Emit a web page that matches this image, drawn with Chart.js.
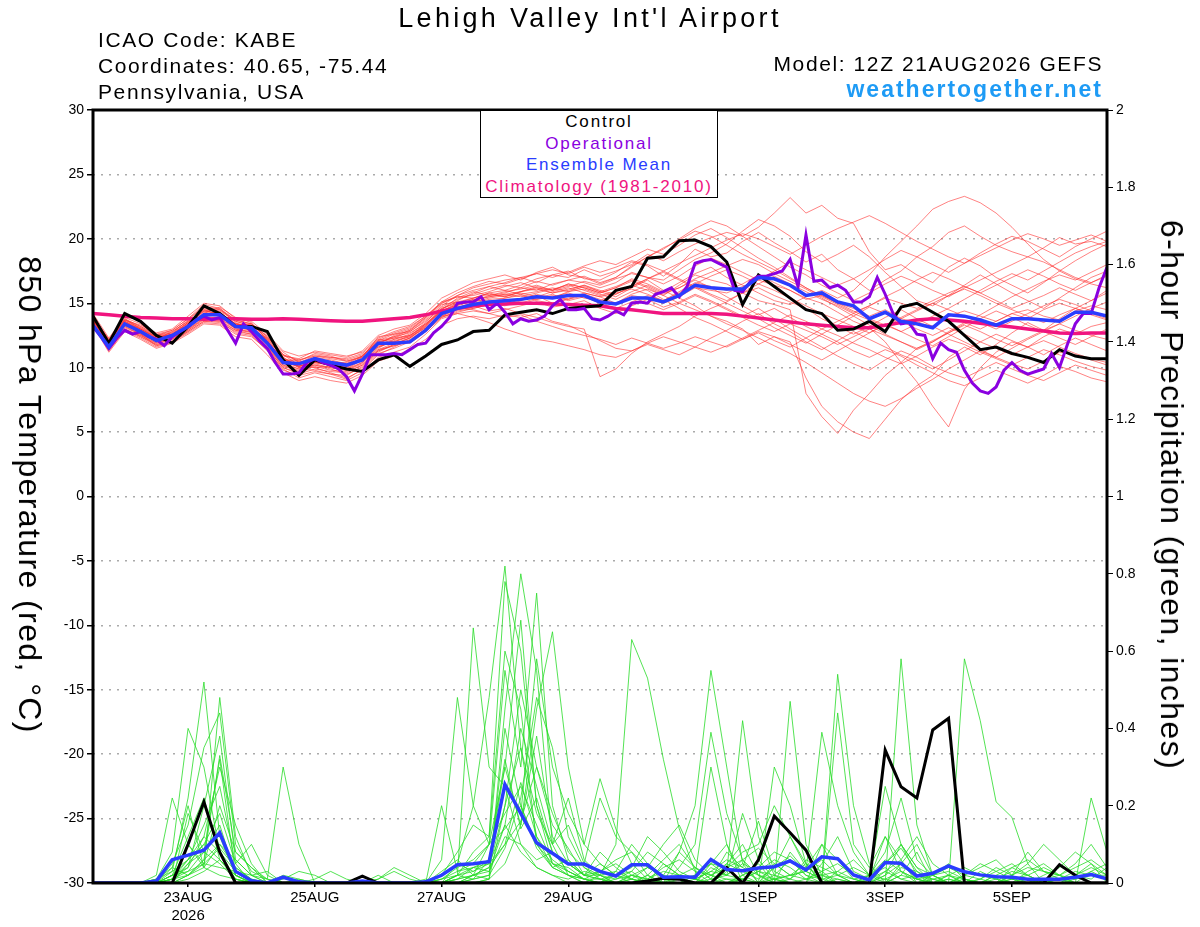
<!DOCTYPE html>
<html>
<head>
<meta charset="utf-8">
<script src="https://cdn.jsdelivr.net/npm/chart.js@4.4.1/dist/chart.umd.min.js"></script>
<style>
  body { margin: 0; background: #fff; font-family: "Liberation Sans", Arial, sans-serif; }
  #wrap { position: relative; width: 1200px; height: 927px; }
  canvas { position: absolute; left: 0; top: 0; }
  .t { position: absolute; white-space: nowrap; color: #000; }
  .hd { font-size: 21px; line-height: 24px; letter-spacing: 1.6px; }
  .ax { position: absolute; white-space: nowrap; font-size: 32px; line-height: 36px; letter-spacing: 1.4px;
        transform: translate(-50%, -50%) rotate(90deg); }
  #legend { position: absolute; left: 480px; top: 110px; width: 236px; height: 86px;
            border: 1.5px solid #000; background: #fff; text-align: center;
            font-size: 17px; line-height: 21.5px; letter-spacing: 1.8px; }
</style>
</head>
<body>
<div id="wrap">
  <canvas id="myChart" width="1200" height="927"></canvas>
  <div class="t" style="left:0;width:1180px;text-align:center;top:1px;font-size:27px;line-height:34px;letter-spacing:3.3px">Lehigh Valley Int'l Airport</div>
  <div class="t hd" style="left:98px;top:28px">ICAO Code: KABE</div>
  <div class="t hd" style="left:98px;top:54px">Coordinates: 40.65, -75.44</div>
  <div class="t hd" style="left:98px;top:80px">Pennsylvania, USA</div>
  <div class="t hd" style="right:97px;top:52px">Model: 12Z 21AUG2026 GEFS</div>
  <div class="t" style="right:97px;top:76px;font-size:23px;line-height:27px;letter-spacing:2px;font-weight:bold;color:#1e9bf5">weathertogether.net</div>
  <div class="ax" style="left:30px;top:495px">850 hPa Temperature (red, °C)</div>
  <div class="ax" style="left:1172px;top:495px">6-hour Precipitation (green, inches)</div>
  <div id="legend">
    <div style="color:#000">Control</div>
    <div style="color:#8a00e0">Operational</div>
    <div style="color:#2a3cff">Ensemble Mean</div>
    <div style="color:#f0147f">Climatology (1981-2010)</div>
  </div>
</div>
<script>
// forecast hours from 12Z 21AUG2026
const hours6 = Array.from({length: 65}, (_, i) => i * 6);
const hours3 = Array.from({length: 129}, (_, j) => j * 3);

const tickHours = [36, 84, 132, 180, 252, 300, 348];
const tickLabels = [['23AUG', '2026'], '25AUG', '27AUG', '29AUG', '1SEP', '3SEP', '5SEP'];

// 850 hPa temperature (C)
const controlTemp = [
  14.0,11.9,14.2,13.6,12.5,11.9,13.2,14.8,14.2,13.2,13.2,12.8,10.6,9.4,10.6,10.2,
  9.9,9.7,10.6,11.0,10.1,10.9,11.8,12.15,12.8,12.9,14.1,14.3,14.5,14.2,14.6,14.7,
  14.8,16.0,16.3,18.5,18.6,19.85,19.9,19.4,18.2,14.9,17.2,16.3,15.4,14.5,14.2,12.9,
  13.0,13.6,12.8,14.7,15.0,14.3,13.6,12.5,11.4,11.6,11.1,10.8,10.4,11.4,10.9,10.7,10.7
];
const operTemp = [
  13.2,12.4,11.5,12.3,12.9,12.6,12.8,12.4,12.2,11.7,12.4,12.8,13.2,13.7,14.0,13.7,
  13.9,12.9,11.9,13.4,12.8,12.1,11.5,10.4,9.5,9.5,9.6,10.4,10.7,10.4,10.2,9.9,
  9.3,8.2,9.5,11.0,11.0,11.0,11.1,11.0,11.4,11.8,11.9,12.7,13.2,13.9,15.0,15.1,
  15.1,15.5,14.5,15.0,14.3,13.4,13.8,13.6,13.7,14.0,14.8,15.3,14.5,14.5,14.6,13.8,
  13.7,14.0,14.4,14.1,15.0,15.1,15.0,15.7,15.9,16.2,15.5,16.3,18.1,18.3,18.4,18.1,
  17.8,16.0,15.9,16.7,17.1,17.1,17.3,17.5,18.4,16.3,20.3,16.7,16.8,16.2,16.4,16.0,
  15.1,15.1,15.5,17.0,15.7,14.2,13.4,13.5,12.6,12.5,10.7,11.9,11.4,11.2,9.8,8.8,
  8.2,8.0,8.5,9.8,10.4,9.8,9.5,9.7,9.9,11.1,10.0,11.8,13.4,14.2,14.2,16.2,17.8
];
const meanTemp = [
  13.3,11.6,13.4,12.8,12.1,12.5,13.2,14.1,14.1,13.2,13.1,11.9,10.4,10.3,10.7,10.4,
  10.2,10.6,11.9,11.9,12.0,12.9,14.2,14.6,14.9,15.1,15.2,15.3,15.5,15.4,15.6,15.6,
  15.1,14.95,15.4,15.4,15.1,15.6,16.4,16.2,16.1,16.1,17.0,16.9,16.4,15.6,15.8,15.1,
  14.8,13.8,14.3,13.6,13.4,13.1,14.1,14.0,13.7,13.3,13.8,13.8,13.7,13.6,14.3,14.3,14.0
];
const climoTemp = [
  14.2,14.1,14.0,13.9,13.85,13.8,13.8,13.75,13.8,13.8,13.75,13.75,13.8,13.75,13.7,13.65,
  13.6,13.6,13.7,13.8,13.9,14.1,14.4,14.6,14.8,14.9,14.95,15.0,15.0,14.95,14.9,14.85,
  14.8,14.6,14.5,14.35,14.2,14.2,14.2,14.2,14.15,14.0,13.85,13.7,13.55,13.4,13.3,13.2,
  13.1,13.1,13.3,13.5,13.7,13.8,13.7,13.6,13.45,13.3,13.15,13.0,12.85,12.7,12.65,12.7,12.7
];
const memberTemp = [
  [14.0,12.0,13.8,13.2,12.6,12.9,13.8,14.9,14.6,13.5,13.0,12.2,10.8,10.1,10.3,10.0,
   9.8,10.4,11.5,12.2,12.6,13.5,14.8,15.6,16.2,16.5,16.8,17.0,16.6,17.2,17.5,16.9,
   16.8,17.4,18.2,17.9,17.1,18.0,19.2,18.6,18.9,19.8,20.5,19.7,19.0,18.2,18.8,17.6,
   16.9,16.0,16.8,17.5,18.6,19.4,20.5,21.0,20.2,19.5,19.0,18.6,19.3,20.1,19.6,19.8,19.4],
  [13.6,11.4,13.0,12.4,11.8,12.0,12.9,13.8,13.9,13.4,13.3,12.5,11.0,10.2,10.0,9.6,
   9.2,9.8,11.0,11.6,12.2,13.0,14.0,14.5,14.7,15.0,14.8,15.2,15.6,15.0,15.3,15.8,
   15.5,15.0,15.7,16.1,15.6,16.4,17.2,16.8,16.5,15.8,15.2,14.9,14.5,8.0,6.2,4.9,
   6.7,8.0,9.4,10.4,11.5,12.0,12.8,13.5,13.0,13.6,14.2,13.8,14.5,15.0,14.6,14.1,13.7],
  [14.1,11.8,13.5,13.0,12.3,12.6,13.4,14.3,14.0,13.0,12.7,11.5,10.0,9.6,10.4,10.2,
   10.1,10.8,12.4,12.6,12.8,13.6,14.6,15.0,15.4,15.7,15.5,15.9,16.2,15.8,16.0,16.4,
   15.9,15.5,16.2,16.8,16.0,15.4,14.8,14.0,13.6,13.0,11.8,12.4,12.0,9.2,7.0,5.8,
   5.0,4.5,6.0,7.5,8.6,9.4,10.8,11.6,11.0,11.8,12.7,13.5,12.9,13.8,14.6,15.2,16.0],
  [13.9,12.1,13.6,12.9,12.2,12.8,13.6,14.5,14.4,13.6,13.2,12.0,10.6,10.6,11.0,10.8,
   10.6,11.0,12.0,12.3,12.5,13.2,14.4,15.0,15.2,15.6,15.9,16.1,16.4,16.0,16.5,16.2,
   15.8,16.2,16.9,16.5,15.9,16.6,17.3,17.8,17.0,16.4,15.8,15.2,14.9,15.5,16.0,15.4,
   16.0,17.2,18.6,19.8,21.0,22.3,22.9,23.3,22.8,22.0,20.9,19.6,18.4,17.5,16.9,16.5,16.2],
  [13.8,11.7,13.3,12.7,12.0,12.3,13.1,14.0,14.2,13.3,13.4,12.2,10.8,10.0,10.2,9.9,
   9.5,10.0,11.2,11.8,12.3,13.3,14.5,15.2,15.8,16.3,16.0,16.4,16.9,17.2,17.0,17.6,
   17.1,17.5,18.0,18.8,18.3,19.0,19.6,20.1,20.5,20.2,20.9,22.0,23.2,22.0,22.6,21.6,
   21.2,19.0,17.6,18.0,17.2,16.6,17.8,18.5,17.9,17.0,16.4,15.8,16.6,17.5,18.3,19.0,19.6],
  [13.5,11.3,12.9,12.5,11.9,12.2,13.0,13.9,13.7,12.9,12.6,11.6,10.1,9.8,10.6,10.3,
   10.4,10.9,12.2,12.0,11.9,12.8,13.9,14.3,14.6,14.9,15.3,15.0,15.4,15.7,15.2,15.5,
   15.0,14.6,15.1,15.6,15.2,15.9,16.6,16.3,16.0,16.5,17.2,16.6,16.0,15.4,15.0,14.3,
   13.6,13.1,12.0,10.4,8.9,7.0,5.4,8.3,10.0,11.2,12.0,11.6,12.4,13.0,12.6,13.2,13.5],
  [14.2,12.3,13.9,13.4,12.5,12.7,13.5,14.6,14.3,13.1,12.9,12.3,11.2,10.4,10.0,10.1,
   9.9,10.6,11.8,12.5,12.9,13.8,14.9,15.1,14.8,14.4,14.6,14.2,13.9,13.5,13.2,13.0,
   9.3,9.9,11.1,12.0,12.6,13.2,14.0,14.6,15.1,15.8,16.2,15.6,15.1,14.6,13.8,13.2,
   12.6,13.2,13.9,14.5,13.8,13.2,12.6,12.0,11.4,10.8,10.3,9.9,10.5,11.2,11.0,10.6,10.2],
  [13.7,11.9,13.7,13.1,12.4,12.5,13.3,14.2,14.7,13.9,13.5,12.1,10.5,10.3,10.8,10.6,
   10.3,10.7,11.9,12.4,12.7,13.4,14.5,15.4,15.9,15.6,15.8,16.2,16.0,16.5,16.8,16.6,
   16.2,16.6,17.4,17.0,16.8,17.6,18.4,18.9,19.6,20.6,21.5,21.0,20.2,19.0,18.2,18.8,
   19.5,18.6,17.4,16.3,15.2,14.8,15.6,16.4,17.2,16.5,15.8,15.2,14.6,15.4,16.2,17.0,17.5],
  [13.4,11.6,13.1,12.6,11.7,12.1,12.8,13.6,13.6,12.7,12.5,11.3,9.9,9.2,9.6,9.3,
   9.0,9.6,10.8,11.2,11.6,12.6,13.8,14.2,14.4,14.2,14.5,14.8,15.1,14.7,14.9,15.2,
   14.6,14.2,14.8,15.3,14.7,15.1,15.7,15.2,14.6,14.0,14.6,13.8,13.0,12.3,11.6,10.9,
   10.3,9.8,10.6,11.3,10.8,10.1,9.6,9.2,9.8,10.4,9.9,9.4,9.0,9.6,10.2,9.8,9.4],
  [13.9,11.5,13.4,12.8,12.0,12.4,13.2,14.1,14.0,13.2,13.0,11.8,10.3,10.2,10.8,10.4,
   10.2,10.5,11.7,11.9,12.1,13.0,14.3,14.7,15.0,15.3,15.4,15.6,15.3,15.5,15.8,15.4,
   15.2,15.0,15.6,15.4,15.0,15.5,16.2,16.0,15.8,16.3,16.8,16.4,16.0,15.3,15.6,15.0,
   14.6,14.0,14.5,13.8,13.5,13.2,14.0,14.4,14.0,13.6,14.2,14.5,14.0,13.7,14.4,14.8,14.5],
  [14.0,12.2,13.7,13.3,12.7,13.0,14.0,15.0,14.8,13.8,13.6,12.6,11.3,10.9,11.2,11.0,
   10.8,11.3,12.5,13.0,13.3,14.2,15.4,16.0,16.6,16.9,17.2,16.8,17.4,17.8,17.2,17.0,
   16.5,17.0,17.8,18.6,19.2,20.0,20.8,21.4,21.0,20.2,19.4,18.6,17.8,17.2,16.4,15.8,
   15.2,15.8,16.5,17.1,16.6,16.0,15.5,16.2,16.8,17.4,18.0,18.6,18.2,17.6,17.0,16.6,17.2],
  [13.3,11.2,12.8,12.2,11.5,11.9,12.6,13.4,13.3,12.4,12.2,11.0,9.6,9.0,9.3,9.0,
   8.8,9.4,10.5,10.9,11.4,12.2,13.3,13.8,14.0,13.8,14.1,13.9,14.2,13.6,13.3,12.7,
   12.1,11.5,11.3,11.8,11.4,11.0,11.6,12.3,12.9,13.6,14.2,13.4,12.8,12.0,11.4,12.1,
   12.8,12.2,11.6,11.0,10.5,9.9,10.6,11.3,12.0,12.6,12.1,11.6,11.0,11.7,12.3,11.8,11.3],
  [13.7,11.8,13.5,12.9,12.3,12.6,13.4,14.4,14.5,13.7,13.4,12.4,11.0,10.5,10.4,10.2,
   10.0,10.9,12.1,12.4,12.9,13.9,15.1,15.5,15.6,15.9,16.3,16.6,16.2,16.0,16.3,16.7,
   16.4,16.9,17.3,17.0,16.5,17.1,17.9,18.5,18.0,17.4,16.8,17.5,18.2,17.6,17.0,16.4,
   16.9,17.6,18.4,19.1,18.6,18.0,17.4,18.1,18.9,19.6,20.2,19.8,19.2,18.6,19.4,20.0,20.6],
  [13.8,11.6,13.2,12.6,11.9,12.3,13.0,13.8,13.6,12.9,12.8,11.7,10.2,9.7,10.1,9.8,
   9.7,10.2,11.4,11.7,12.0,12.9,14.0,14.6,14.9,15.2,14.9,15.3,15.7,15.4,15.9,16.1,
   15.7,15.3,15.9,16.4,15.8,16.2,16.8,16.2,15.5,14.8,14.1,14.6,13.9,13.2,12.6,12.0,
   11.3,10.8,11.4,10.9,10.2,9.6,9.0,8.6,9.2,9.8,9.3,8.8,9.4,10.1,9.7,9.2,8.9],
  [14.1,12.0,13.6,13.1,12.5,12.8,13.6,14.5,14.1,13.3,12.9,11.9,10.6,10.5,11.1,10.9,
   10.5,10.8,11.6,12.1,12.4,13.1,14.2,14.8,15.2,15.5,15.7,15.5,15.8,16.1,16.4,16.0,
   15.6,15.9,16.4,16.0,15.3,14.6,13.9,13.4,12.8,12.2,12.7,12.1,11.6,12.3,13.0,13.6,
   14.2,14.8,15.4,15.0,14.6,15.2,15.8,16.3,15.8,15.2,14.6,15.1,15.6,16.2,15.7,15.2,15.8],
  [13.6,11.9,13.4,12.8,12.2,12.4,13.2,14.2,14.3,13.4,13.0,12.0,10.7,10.1,10.6,10.5,
   10.3,10.9,12.0,12.3,12.8,13.7,14.7,15.3,15.7,16.1,16.4,16.2,16.7,16.4,16.8,17.1,
   16.6,17.0,17.9,18.6,19.3,19.9,20.6,20.2,19.5,18.8,18.2,17.6,16.9,16.2,15.6,15.0,
   14.4,13.8,13.3,12.8,13.4,14.0,14.6,15.3,16.0,16.7,17.3,16.8,17.5,18.2,18.9,19.4,19.8],
  [13.5,11.5,13.0,12.5,11.8,12.2,12.9,13.7,13.8,13.1,13.1,12.0,10.4,9.9,9.8,9.5,
   9.4,10.1,11.3,11.8,12.3,13.1,14.2,14.9,15.3,15.1,15.4,15.7,15.2,15.0,15.4,15.7,
   15.3,14.9,15.5,15.0,14.5,15.0,15.6,15.1,14.5,13.9,13.3,12.8,13.4,12.9,12.4,11.8,
   12.4,13.0,12.5,12.0,11.5,12.1,12.7,13.3,12.8,12.2,11.7,12.3,12.9,13.4,12.9,12.5,12.2],
  [13.9,12.2,13.8,13.0,12.4,12.7,13.7,14.7,14.5,13.6,13.3,12.3,10.9,10.7,11.3,11.1,
   10.9,11.2,12.3,12.8,13.2,14.0,15.0,15.5,15.4,15.8,16.0,15.7,15.9,16.2,15.9,16.3,
   15.9,16.3,16.8,16.3,15.7,16.2,16.9,17.4,17.9,18.4,18.0,17.3,16.7,16.1,15.4,14.7,
   14.0,13.3,12.6,12.0,11.4,12.0,12.7,13.4,14.1,14.8,15.5,16.1,16.7,17.2,16.8,17.4,18.0],
  [13.4,11.4,12.9,12.3,11.6,12.0,12.7,13.5,13.4,12.6,12.4,11.4,9.8,9.4,9.7,9.5,
   9.1,9.9,11.1,11.5,12.0,12.8,13.9,14.4,14.6,14.9,15.1,14.9,15.3,15.6,15.3,15.6,
   15.2,15.7,16.3,16.9,17.4,16.8,16.2,15.6,15.0,14.4,13.8,13.1,12.5,11.9,12.6,13.3,
   14.0,14.7,14.2,13.6,13.0,12.5,13.1,12.6,12.0,11.5,11.0,11.6,12.1,11.6,11.1,10.7,10.4],
  [14.0,11.9,13.6,13.0,12.4,12.6,13.5,14.4,14.2,13.4,13.1,12.1,10.6,10.0,10.2,10.0,
   9.8,10.3,11.4,11.9,12.3,13.2,14.4,14.9,15.1,15.4,15.6,15.8,15.5,15.9,16.2,15.8,
   15.5,15.8,16.1,15.7,15.2,15.8,16.5,17.1,17.6,17.1,16.5,16.0,15.4,14.8,14.2,13.7,
   13.2,12.7,13.3,13.9,14.5,15.0,15.6,16.1,15.6,15.0,14.5,14.0,13.5,14.1,14.6,14.2,13.8],
  [13.6,11.7,13.2,12.6,12.0,12.4,13.1,14.0,13.8,13.0,12.8,11.6,10.2,9.9,10.5,10.2,
   10.0,10.6,11.8,12.0,12.4,13.4,14.4,14.7,14.5,14.2,13.9,14.1,13.6,13.2,12.8,12.5,
   12.2,11.8,12.3,11.9,11.5,11.9,12.4,12.0,11.6,12.2,12.8,12.4,11.8,11.2,10.6,11.3,
   12.0,12.7,13.4,12.8,12.2,11.7,12.4,13.1,13.8,14.4,13.9,13.3,12.8,13.4,14.0,14.6,15.1],
  [13.9,12.0,13.5,13.0,12.3,12.6,13.5,14.4,14.2,13.2,13.1,12.0,10.5,10.4,10.9,10.7,
   10.5,10.9,12.1,12.6,13.0,13.9,15.0,15.6,16.0,16.3,16.6,17.0,17.3,17.0,17.4,17.9,
   18.3,18.0,18.6,19.2,18.8,19.5,20.3,20.8,20.1,19.3,18.5,17.8,17.0,16.2,15.5,14.9,
   14.3,14.8,15.5,16.1,16.8,17.4,16.9,16.3,15.8,16.4,17.0,17.6,17.1,16.5,16.0,16.6,17.1],
  [13.5,11.4,13.0,12.4,11.7,12.0,12.8,13.6,13.5,12.8,12.6,11.5,10.0,9.5,9.9,9.7,
   9.6,10.2,11.3,11.7,12.1,13.0,14.0,14.2,13.9,13.5,13.0,12.6,12.2,12.0,11.7,11.4,
   11.0,10.8,11.3,11.9,12.4,12.0,11.6,11.2,11.7,12.3,12.9,13.5,14.1,13.6,13.0,12.5,
   11.9,11.4,10.8,10.3,10.9,11.6,12.2,11.8,11.2,10.7,10.2,10.8,11.4,11.0,10.5,10.1,9.8],
  [14.0,12.1,13.7,13.2,12.5,12.9,13.8,14.7,14.6,13.7,13.4,12.4,11.0,10.6,10.9,10.8,
   10.7,11.1,12.2,12.7,13.1,14.0,15.1,15.8,16.3,16.7,16.5,16.9,17.3,17.6,17.3,17.8,
   17.4,17.8,18.3,18.0,17.5,18.1,18.7,19.3,19.9,20.4,20.0,19.4,18.8,19.5,20.2,20.8,
   21.3,21.8,21.2,20.5,19.8,19.2,18.6,18.1,18.7,19.3,19.9,20.4,20.0,19.5,19.9,20.3,19.8],
  [13.7,11.8,13.4,12.7,12.2,12.5,13.3,14.2,14.0,13.1,13.0,11.9,10.4,10.1,10.6,10.3,
   10.1,10.6,11.8,12.2,12.5,13.3,14.4,14.9,15.3,15.5,15.7,15.9,16.1,15.8,16.1,16.4,
   16.0,15.7,16.3,16.9,17.5,16.9,16.3,15.7,15.2,15.8,16.5,17.1,16.5,15.9,15.3,14.8,
   14.2,13.7,13.2,13.8,14.4,15.0,14.5,14.0,13.5,13.0,13.6,14.2,14.8,15.3,14.9,14.4,14.0],
  [13.8,11.7,13.3,12.8,12.1,12.4,13.2,14.1,14.3,13.4,13.2,12.1,10.6,10.1,10.4,10.2,
   9.9,10.4,11.6,12.0,12.5,13.4,14.6,15.1,15.4,15.8,15.5,15.9,16.3,16.0,16.5,16.2,
   15.8,16.2,16.7,16.2,15.6,15.0,14.5,14.0,13.4,12.9,12.3,11.7,11.1,10.4,9.6,8.8,
   8.0,7.4,7.0,7.6,8.4,9.1,9.9,10.6,11.3,10.8,11.5,12.2,12.8,12.3,11.8,12.4,13.0]
];

// 6-hour precipitation (inches)
const controlPrcp = [
  0,0,0,0,0,0,.1,.21,.08,0,0,0,0,0,0,0,
  0,.018,0,0,0,0,0,0,0,0,0,0,0,0,0,0,
  0,0,0,.005,.012,.01,0,0,.04,0,.06,.173,.13,.085,0,0,
  0,0,.344,.249,.22,.396,.426,0,0,0,0,0,0,.047,.02,0,0
];
const meanPrcp = [
  0,0,0,0,.005,.06,.072,.085,.13,.03,.006,0,.015,.003,0,0,
  0,.005,0,0,0,.003,.02,.047,.05,.055,.255,.18,.104,.077,.049,.049,
  .03,.018,.047,.047,.015,.016,.015,.061,.035,.032,.039,.042,.057,.034,.068,.063,
  .021,.008,.053,.051,.018,.025,.044,.029,.021,.016,.015,.01,.01,.01,.015,.022,.011
];
const memberPrcp = [
  [0,0,0,0,0,.03,.22,.52,.12,.02,0,0,0,0,0,0,
   0,0,0,0,0,0,.02,.08,.15,.12,.6,.45,.1,.05,.02,0,
   0,.03,.1,.05,0,0,.02,.3,.1,0,0,.04,.12,.05,0,0,
   0,0,.02,.05,.01,0,0,0,.03,.01,0,0,0,0,.02,.05,0],
  [0,0,0,0,.01,.08,.4,.3,.08,.01,0,0,0,0,0,0,
   0,0,0,0,0,0,0,.05,.2,.48,.82,.35,.12,.04,.06,.02,
   .01,0,.02,0,0,0,0,.05,.02,.01,0,0,.08,.03,.01,.54,
   .2,.05,0,0,0,0,0,.01,0,0,0,0,0,.01,0,0,0],
  [0,0,0,0,.02,.22,.1,.04,.48,.12,.02,0,0,0,0,0,
   0,0,0,0,0,0,0,.02,.66,.3,.25,.1,.04,.02,0,0,
   .02,.1,.63,.53,.32,.14,.03,0,0,.02,.05,0,0,.01,0,0,
   0,0,0,.02,.08,0,0,0,0,0,.04,.02,0,0,0,0,0],
  [0,0,0,0,0,.05,.15,.35,.44,.1,.03,.01,0,0,0,0,
   0,0,0,0,0,0,.06,.48,.2,.1,.3,.68,.2,.08,.03,.01,
   0,0,0,.02,0,.08,.2,.55,.3,.05,0,0,0,0,.1,.02,
   0,0,0,.05,.1,.02,0,0,0,0,0,0,0,0,0,.03,.01],
  [0,0,0,0,0,.02,.04,.2,.38,.06,.02,0,0,0,0,0,
   0,0,0,0,0,0,.01,.03,.05,.1,.55,.3,.75,.2,.06,.02,
   .02,0,.01,0,0,.02,.01,0,.03,.42,.12,.02,0,0,0,0,
   0,0,0,.58,.15,.02,0,0,0,0,0,.01,0,0,0,0,0],
  [0,0,0,0,0,.01,.1,.05,.2,.08,.04,.01,.3,.1,0,0,
   0,0,0,0,0,0,.01,.02,.04,.06,.3,.15,.45,.65,.3,.1,
   .05,.02,0,0,.01,0,0,0,.05,.1,.02,0,.47,.1,.02,0,
   0,0,0,0,0,0,0,.58,.42,.21,.17,.05,0,0,0,0,0],
  [0,0,0,0,.01,.03,.06,.15,.25,.05,.1,.02,0,0,0,0,
   0,0,0,0,0,0,0,0,.02,.03,.15,.4,.25,.1,.15,.05,
   .22,.12,.08,.04,.02,.01,0,0,.01,0,0,.05,.02,.03,.39,.2,
   .08,.02,0,0,0,.01,0,0,0,0,0,0,0,0,0,.22,.08],
  [0,0,0,0,0,0,.18,.08,.32,.02,0,0,0,0,0,0,
   0,0,0,0,0,.01,0,.02,.08,.12,.78,.6,.2,.05,.04,.01,
   0,.02,.03,0,0,.04,.1,.39,.18,.06,0,.01,0,0,0,0,
   0,0,.05,.1,.04,0,0,0,0,.02,0,0,0,0,0,0,0],
  [0,0,0,0,0,.01,.04,.12,.08,.03,0,0,.01,.03,.02,0,
   0,0,0,0,0,0,0,0,.01,.02,.09,.22,.48,.35,.12,.04,
   .01,0,0,.02,.06,.1,.04,.01,0,.01,0,.3,.2,.05,0,.44,
   .1,.04,.12,.06,0,0,.02,0,0,0,.01,0,0,0,0,0,0],
  [0,0,0,0,0,0,.02,.06,.33,.08,.04,0,0,0,0,0,
   0,0,0,0,0,0,0,.01,.02,.04,.2,.5,.3,.15,.09,.02,
   .03,.06,.08,.02,0,.01,.02,.05,.04,.08,.1,.2,.12,.04,.02,.01,
   0,.01,.12,.03,0,0,0,0,0,0,0,.03,.05,.02,0,0,0],
  [0,0,0,0,0,.04,.2,.04,.1,.06,.02,.03,0,0,0,0,
   0,0,0,0,0,0,.03,.06,.02,.01,.45,.8,.55,.1,.02,0,
   0,0,0,0,0,0,0,.02,.04,.06,.02,0,.01,0,0,.03,
   .06,.02,.04,.01,0,0,.01,0,0,0,0,0,0,0,0,0,0],
  [0,0,0,0,0,.02,.06,.1,.18,.05,0,0,0,0,0,0,
   0,0,0,0,0,0,0,.02,.01,.06,.25,.18,.58,.3,.18,.1,
   .27,.14,.05,.01,0,0,0,.04,.02,.18,.06,.01,0,0,.05,.12,
   .03,.01,.25,.1,.02,0,0,0,.01,0,0,0,0,0,.01,.02,.01],
  [0,0,0,0,0,.02,.03,.08,.05,.01,0,0,0,0,.01,.03,
   .01,0,0,0,0,0,0,0,0,.01,.2,.35,.18,.1,.22,.06,
   .02,0,.01,.04,.02,.08,.04,.02,.01,.01,.03,.02,.01,.04,.1,.06,
   .01,0,.02,.1,.04,.02,.03,.01,0,0,.01,.02,.04,.02,0,0,0],
  [0,0,0,0,0,.01,.05,.08,.15,.02,0,0,0,.01,0,0,
   0,0,0,0,0,0,0,.01,.04,.03,.12,.1,.06,.08,.05,.02,
   .01,.02,.04,.12,.08,.03,.01,0,0,.02,.04,.08,.06,.02,.01,0,
   0,.02,.01,0,0,.02,.05,.01,0,0,.02,.05,.1,.06,.02,.01,.04],
  [0,0,0,0,0,0,.01,.03,.06,.02,0,0,0,0,0,0,
   0,0,0,0,0,0,0,0,.01,.02,.4,.2,.1,.04,.02,.01,
   0,.01,.02,.01,0,0,.01,.03,.06,.04,.02,.01,.02,.05,.03,0,
   0,0,0,.02,.01,0,0,.02,.05,.03,.01,0,0,.01,.03,.02,.02],
  [0,0,0,0,0,0,.02,.04,.02,.01,0,0,.02,.01,0,0,
   0,0,.02,0,0,0,.2,.03,.04,.05,.15,.08,.04,.02,.01,.03,
   .02,.03,.01,0,.05,.02,.04,.01,.08,.04,.16,.03,.01,.06,.04,.02,
   .01,0,.03,.01,.02,.01,.02,0,.01,.04,.02,.08,.03,.02,.04,.06,.03],
  [0,0,0,0,.01,.04,.02,.06,.1,.04,.01,0,0,0,0,0,
   0,0,0,0,0,0,0,.01,.02,.04,.1,.26,.12,.06,.03,.01,
   0,0,.02,.04,.1,.15,.06,.02,0,0,0,.01,.02,.03,.06,.02,
   0,.02,.08,.22,.06,.02,0,0,0,.01,.03,.02,0,0,0,0,0],
  [0,0,0,0,0,.01,.02,.05,.04,.03,.02,.01,0,0,0,0,
   0,0,0,0,0,0,.02,.05,.03,.06,.32,.14,.22,.08,.05,.02,
   .08,.04,.01,0,0,0,.02,.05,.1,.02,0,.02,.06,.02,0,.01,
   0,0,0,.04,.03,.01,0,.02,.04,.06,.02,0,.01,.02,.05,.1,.04],
  [0,0,0,0,0,.02,.12,.22,.06,.01,0,0,0,0,0,0,
   0,0,.01,.03,.01,0,0,0,0,.01,.05,.15,.38,.12,.05,.02,
   .05,.02,.01,0,0,0,0,.01,.02,.05,.03,.01,0,0,0,0,
   0,0,.01,.03,.01,0,.01,0,0,0,.02,.04,.03,.01,0,0,0],
  [0,0,0,0,0,.01,.06,.12,.3,.15,.05,0,0,0,0,0,
   0,0,.01,.04,.02,0,0,0,.02,.1,.18,.25,.15,.05,.03,.01,
   .01,0,0,.01,.03,.02,.01,0,0,.01,.03,.06,.04,.01,.02,.03,
   .01,.02,.05,.09,.03,0,.02,.04,.02,.01,0,0,.02,.04,.08,.05,.02],
  [0,0,0,0,0,.01,.03,.05,.09,.04,.01,0,0,0,0,0,
   0,0,0,0,0,0,.01,.04,.06,.1,.14,.2,.09,.04,.02,.01,
   .03,.05,.02,.01,.04,.06,.03,.02,.05,.03,.01,.04,.07,.03,.01,.02,
   .04,.02,.06,.03,.01,.02,.04,.02,.01,.03,.05,.02,0,.01,.02,.04,.02],
  [0,0,0,0,0,0,.05,.1,.06,.02,0,0,0,0,0,0,
   0,0,0,0,0,0,0,.02,.03,.05,.1,.16,.3,.18,.08,.04,
   .02,.01,.03,.08,.05,.02,.01,.03,.02,.06,.09,.05,.02,.01,.03,.05,
   .02,.01,.03,.06,.12,.05,.02,.01,0,.02,.04,.06,.03,.02,.01,.03,.05]
];

const toXY = (xs, ys) => ys.map((v, i) => ({x: xs[i], y: v}));

const datasets = [];
memberTemp.forEach(m => datasets.push({
  data: toXY(hours6, m), yAxisID: 'y',
  borderColor: 'rgba(255,45,45,0.75)', borderWidth: 0.8, order: 20
}));
memberPrcp.forEach(m => datasets.push({
  data: toXY(hours6, m), yAxisID: 'y2',
  borderColor: 'rgb(40,220,40)', borderWidth: 0.8, order: 19
}));
datasets.push({data: toXY(hours6, climoTemp), yAxisID: 'y', borderColor: '#f0147f', borderWidth: 3.5, order: 4});
datasets.push({data: toXY(hours6, controlTemp), yAxisID: 'y', borderColor: '#000', borderWidth: 3, order: 3});
datasets.push({data: toXY(hours3, operTemp), yAxisID: 'y', borderColor: '#8a00e0', borderWidth: 3, order: 2});
datasets.push({data: toXY(hours6, meanTemp), yAxisID: 'y', borderColor: '#2a3cff', borderWidth: 3.5, order: 1});
datasets.push({data: toXY(hours6, controlPrcp), yAxisID: 'y2', borderColor: '#000', borderWidth: 3, order: 3});
datasets.push({data: toXY(hours6, meanPrcp), yAxisID: 'y2', borderColor: '#2a3cff', borderWidth: 3.5, order: 1});

// thick frame around the plot area
const frame = {
  id: 'frame',
  afterDatasetsDraw(chart) {
    const {ctx, chartArea: a} = chart;
    ctx.save();
    ctx.strokeStyle = '#000';
    ctx.lineWidth = 3;
    ctx.strokeRect(a.left, a.top, a.right - a.left, a.bottom - a.top);
    ctx.restore();
  }
};

Chart.defaults.font.family = '"Liberation Sans", Arial, sans-serif';
Chart.defaults.color = '#000';

var ctx = document.getElementById('myChart').getContext('2d');
var myChart = new Chart(ctx, {
  type: 'line',
  data: {datasets: datasets},
  options: {
    responsive: false,
    animation: false,
    devicePixelRatio: 1,
    layout: {padding: {top: 110, left: 0, right: 0, bottom: 0}},
    elements: {point: {radius: 0}, line: {tension: 0, fill: false}},
    plugins: {legend: {display: false}, tooltip: {enabled: false}},
    scales: {
      x: {
        type: 'linear', min: 0, max: 384,
        afterBuildTicks: s => { s.ticks = tickHours.map(v => ({value: v})); },
        afterFit: s => { s.height = 44; },
        border: {display: false},
        grid: {drawOnChartArea: false, drawTicks: true, tickLength: 4, color: '#000', lineWidth: 1.5},
        ticks: {autoSkip: false, maxRotation: 0, padding: 2, font: {size: 15},
                callback: (v, i) => tickLabels[i]}
      },
      y: {
        position: 'left', min: -30, max: 30,
        afterFit: s => { s.width = 93; },
        border: {display: false, dash: [2, 6]},
        grid: {color: '#aaaaaa', lineWidth: 1.5, tickColor: '#000', tickBorderDash: [], tickLength: 6},
        ticks: {stepSize: 5, padding: 3, font: {size: 14}}
      },
      y2: {
        position: 'right', min: 0, max: 2,
        afterFit: s => { s.width = 93; },
        border: {display: false},
        grid: {drawOnChartArea: false, tickLength: 6, color: '#000'},
        ticks: {stepSize: 0.2, padding: 3, font: {size: 14},
                callback: v => String(Math.round(v * 10) / 10)}
      }
    }
  },
  plugins: [frame]
});
</script>
</body>
</html>
